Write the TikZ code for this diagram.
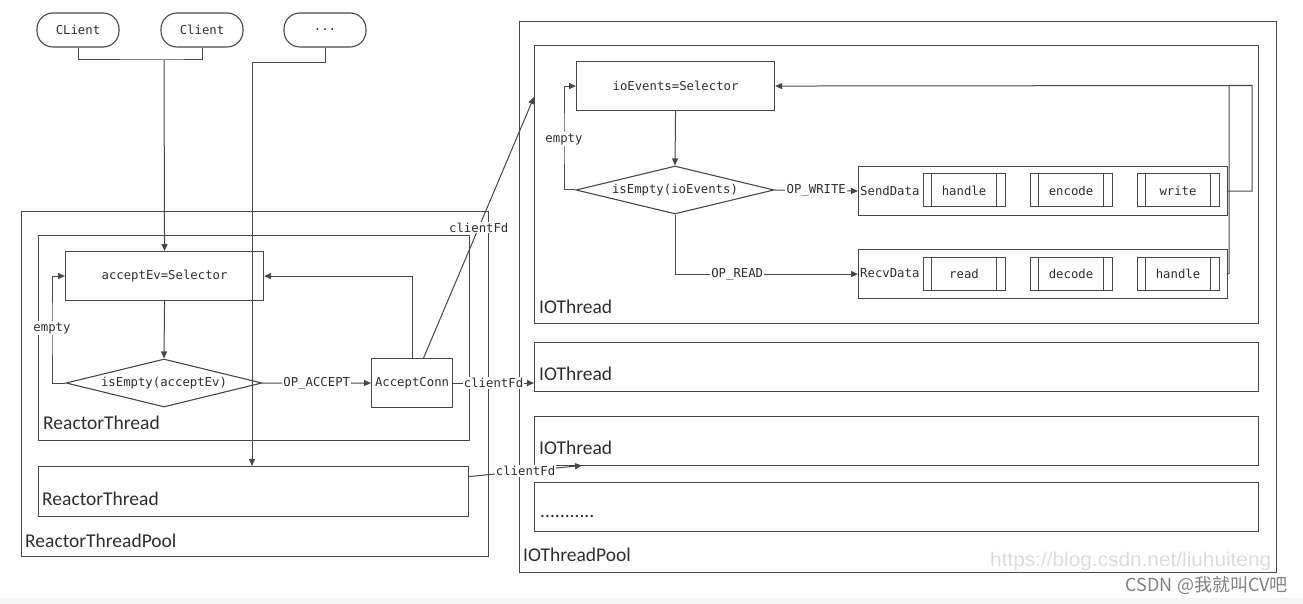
\documentclass[tikz,border=0pt]{standalone}
\usepackage{fontspec}
\setmainfont{Carlito}
\newfontfamily\monof{DejaVu Sans Mono}
\newfontfamily\cjkf{Noto Sans CJK SC}
\newfontfamily\wmf{Liberation Sans}
\usetikzlibrary{shapes.geometric,arrows.meta,calc}
\definecolor{lncol}{HTML}{474747}
\definecolor{txt}{HTML}{2E2E2E}
\tikzset{
  mono/.style={font=\monof\fontsize{12.3}{14}\selectfont, text=txt},
  box/.style={draw=lncol, line width=1.1pt, inner sep=0pt, anchor=north west},
  client/.style={draw=lncol, line width=1.1pt, rounded corners=16pt, inner sep=0pt, minimum width=82pt, minimum height=34pt, mono},
  dia/.style={diamond, draw=lncol, line width=1.1pt, aspect=4, inner sep=0pt, minimum width=196pt, minimum height=48pt, mono},
  subr/.style={draw=lncol, line width=1pt, inner sep=0pt, minimum width=82pt, minimum height=33pt, mono},
  lbl/.style={fill=white, inner sep=1.2pt, mono},
  arr/.style={color=lncol, line width=1pt, -{Triangle[length=7pt,width=6pt]}},
  thinln/.style={color=lncol, line width=1pt},
  boxcap/.style={anchor=west, inner sep=0pt, font=\fontsize{19.5}{22}\selectfont, text=txt},
}
\begin{document}
\begin{tikzpicture}[x=1pt,y=-1pt]
\path[use as bounding box] (0,0) rectangle (1303,604);
\fill[black!4] (0,598) rectangle (1303,604);

% containers
\node[box, minimum width=467pt, minimum height=345pt] (rtp) at (21,211) {};
\node[box, minimum width=431pt, minimum height=205pt] (rt1) at (38,235) {};
\node[box, minimum width=430pt, minimum height=50pt] (rt2) at (38,466) {};
\node[box, minimum width=757pt, minimum height=551pt] (iop) at (519,21) {};
\node[box, minimum width=724pt, minimum height=278pt] (io1) at (534,45) {};
\node[box, minimum width=724pt, minimum height=49pt] (io2) at (534,342) {};
\node[box, minimum width=724pt, minimum height=49pt] (io3) at (534,416) {};
\node[box, minimum width=724pt, minimum height=49pt] (io4) at (534,482) {};

\node[boxcap] (lrtp) at (25,541) {ReactorThreadPool};
\node[boxcap] (lrt1) at (43,423) {ReactorThread};
\node[boxcap] (lrt2) at (42,499) {ReactorThread};
\node[boxcap] (liop) at (523,555) {IOThreadPool};
\node[boxcap] (lio1) at (539,307) {IOThread};
\node[boxcap] (lio2) at (539,374) {IOThread};
\node[boxcap] (lio3) at (539,448) {IOThread};
\node[boxcap] (lio4) at (540,516) {...........};

% clients
\node[client] (c1) at (78,30) {CLient};
\node[client] (c2) at (202,30) {Client};
\node[client] (c3) at (325,30) {...};

% reactor thread content
\node[box, minimum width=198pt, minimum height=49pt] (sel1) at (65,251) {};
\node[mono] (tsel1) at (sel1.center) {acceptEv=Selector};
\node[dia] (d1) at (164,383) {isEmpty(acceptEv)};
\node[box, minimum width=81pt, minimum height=49pt] (acc) at (371,358) {};
\node[mono, inner sep=0pt] (tacc) at (acc.center) {AcceptConn};

% io thread content
\node[box, minimum width=198pt, minimum height=49pt] (sel2) at (576,61) {};
\node[mono] (tsel2) at (sel2.center) {ioEvents=Selector};
\node[dia, minimum width=198pt] (d2) at (675,190) {isEmpty(ioEvents)};
\node[box, minimum width=369pt, minimum height=49pt] (send) at (858,166) {};
\node[box, minimum width=369pt, minimum height=49pt] (recv) at (858,249) {};
\node[mono, anchor=west, inner sep=0pt] (lsend) at (860,190.5) {SendData};
\node[mono, anchor=west, inner sep=0pt] (lrecv) at (860,273.5) {RecvData};
\node[subr] (sh) at (964,190.5) {handle};
\node[subr] (se) at (1071,190.5) {encode};
\node[subr] (sw) at (1178,190.5) {write};
\node[subr] (rr) at (964,273.5) {read};
\node[subr] (rd) at (1071,273.5) {decode};
\node[subr] (rh) at (1178,273.5) {handle};
\foreach \n in {sh,se,sw,rr,rd,rh}{
  \draw[thinln] ([xshift=9pt]\n.north west) -- ([xshift=9pt]\n.south west);
  \draw[thinln] ([xshift=-9pt]\n.north east) -- ([xshift=-9pt]\n.south east);
}

% coordinates
\coordinate (j1) at (164,60);
\coordinate (j2) at (252,63);
\coordinate (e1) at (52,328);
\coordinate (e2) at (564,139);
\coordinate (t1) at (534,97);
\coordinate (t3) at (582,465.5);
\coordinate (fb) at (1252,85.5);
\coordinate (rj) at (1229,273.5);

% client connectors
\draw[thinln] (c1.south) |- (j1) -| (c2.south);
\draw[arr] (j1) -- (sel1.north);
\draw[arr] (c3.south) |- (j2) -- (j2 |- rt2.north);

% reactor connectors
\draw[arr] (sel1.south) -- (d1.north);
\draw[arr] (d1.west) -| (e1) |- (sel1.west);
\node[lbl] at (e1) {empty};
\draw[arr] (d1.east) -- node[lbl] {OP\_ACCEPT} (acc.west);
\draw[arr] (acc.north) |- (sel1.east);
\draw[arr] ([xshift=11.5pt]acc.north) -- node[lbl, pos=0.5] {clientFd} (t1);
\draw[arr] (acc.east) -- node[lbl] {clientFd} (io2.west |- acc.east);
\draw[arr] ([yshift=15pt]rt2.east) -- node[lbl, pos=0.5] {clientFd} (t3);

% io connectors
\draw[arr] (sel2.south) -- (d2.north);
\draw[arr] (d2.west) -| (e2) |- (sel2.west);
\node[lbl] at (e2) {empty};
\draw[arr] (d2.east) -- node[lbl] {OP\_WRITE} (send.west);
\draw[arr] (d2.south) |- node[lbl, pos=0.67] {OP\_READ} (recv.west);
\draw[arr] (send.east) -| (fb) -- (sel2.east);
\draw[thinln] (recv.east) -- (rj) |- (fb);

% watermark
\node[anchor=west, inner sep=0pt, text=black!14, font=\wmf\fontsize{20}{22}\selectfont] (wm1) at (990,561) {\scalebox{1.04}[1]{https://blog.csdn.net/liuhuiteng}};
\node[anchor=east, inner sep=0pt, text=black!50, font=\cjkf\fontsize{18}{20}\selectfont] (wm2) at (1288,585) {CSDN @我就叫CV吧};
\end{tikzpicture}
\end{document}
